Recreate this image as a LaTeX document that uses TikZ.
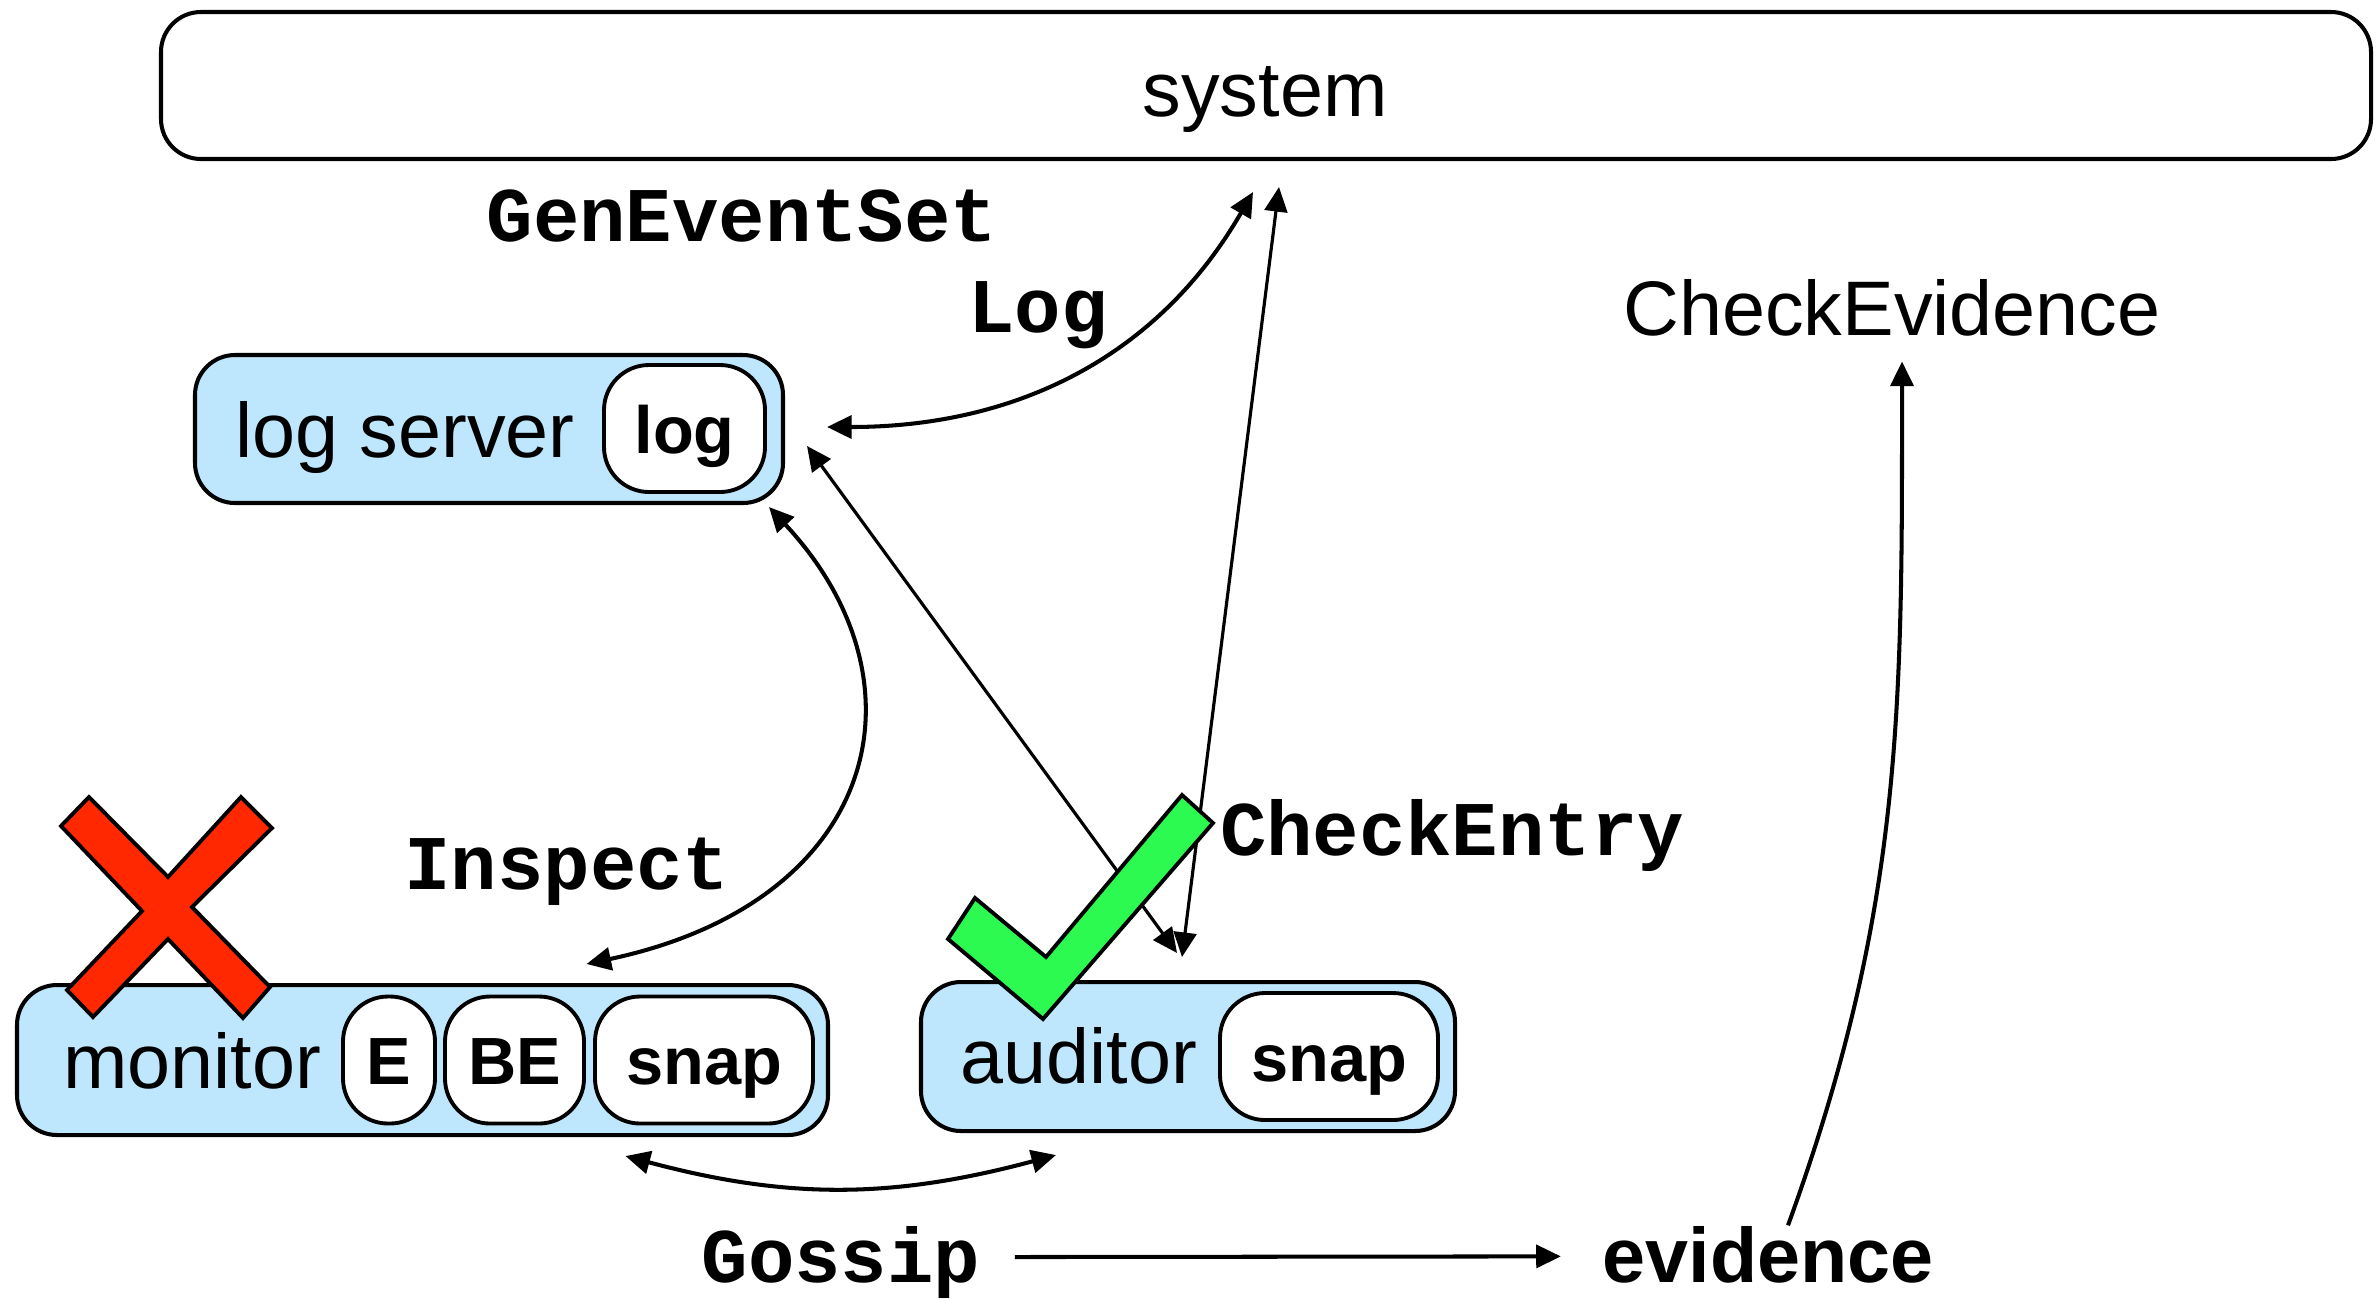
\documentclass[tikz,border=0pt]{standalone}
\usepackage{fontspec}
\setmainfont{Liberation Sans}
\setmonofont{Liberation Mono}
\usepackage{tikz}
\usetikzlibrary{arrows.meta}
\definecolor{boxblue}{RGB}{190,231,253}
\definecolor{crossred}{RGB}{255,40,0}
\definecolor{tickgreen}{RGB}{44,250,80}

\begin{document}
\begin{tikzpicture}[
    >={Triangle[length=7pt,width=6.5pt]},
    frame/.style={
      draw,
      line width=1.15pt,
      rounded corners=4mm
    },
    holder/.style={frame, fill=boxblue},
    slot/.style={
      draw,
      line width=1.1pt,
      rounded corners=4.5mm,
      fill=white,
      minimum height=1.27cm,
      inner sep=0pt,
      text height=18pt,
      text depth=4pt,
      font=\fontsize{19}{22}\selectfont\bfseries
    },
    lbl/.style={anchor=base, inner sep=0pt, font=\fontsize{22}{26}\selectfont},
    op/.style={anchor=base, inner sep=0pt, font=\fontsize{22}{26}\selectfont\ttfamily\bfseries},
    link/.style={line width=1.15pt},
    thinlink/.style={line width=0.9pt}
  ]
    \useasboundingbox (0,0) rectangle (23.76,-12.98);

    % boxes
    \node[frame, fill=white, minimum width=22.10cm, minimum height=1.47cm] (sys) at (12.66,-0.855) {};
    \node[lbl] (systxt) at (12.65,-1.16) {system};

    \node[holder, minimum width=5.88cm, minimum height=1.48cm] (logsrv) at (4.89,-4.29) {};
    \node[lbl] (logsrvtxt) at (4.05,-4.57) {log server};
    \node[slot, minimum width=1.61cm] (logslot) at (6.845,-4.285) {log};

    \node[holder, minimum width=8.11cm, minimum height=1.50cm] (mon) at (4.225,-10.60) {};
    \node[lbl] (montxt) at (1.92,-10.88) {monitor};
    \node[slot, minimum width=0.92cm] (monE) at (3.89,-10.60) {E};
    \node[slot, minimum width=1.39cm] (monBE) at (5.145,-10.60) {BE};
    \node[slot, minimum width=2.18cm] (monsnap) at (7.04,-10.60) {snap};

    \node[holder, minimum width=5.34cm, minimum height=1.49cm] (aud) at (11.88,-10.565) {};
    \node[lbl] (audtxt) at (10.79,-10.83) {auditor};
    \node[slot, minimum width=2.18cm] (audsnap) at (13.29,-10.565) {snap};

    % labels
    \node[op] (genev) at (7.42,-2.41) {GenEventSet};
    \node[op] (logop) at (10.38,-3.32) {Log};
    \node[op] (inspect) at (5.67,-8.89) {Inspect};
    \node[op] (chkentry) at (14.52,-8.55) {CheckEntry};
    \node[op] (gossip) at (8.41,-12.82) {Gossip};
    \node[lbl, font=\fontsize{22}{26}\selectfont\bfseries] (evid) at (17.68,-12.82) {evidence};
    \node[lbl] (chkev) at (18.92,-3.35) {CheckEvidence};

    % connectors
    \draw[link, <->] ([xshift=4.2mm,yshift=0.2mm]logsrv.east) to[out=0, in=240] ([xshift=-1.3mm,yshift=-3.1mm]sys.south);
    \draw[thinlink, <->] ([xshift=1.3mm,yshift=-2.6mm]sys.south) -- ([xshift=-0.6mm,yshift=2.3mm]aud.north);
    \draw[thinlink, <->] ([xshift=2.2mm,yshift=-1.7mm]logsrv.east) -- ([xshift=-1.1mm,yshift=2.7mm]aud.north);
    \draw[link, <->] ([xshift=-1.6mm,yshift=-0.2mm]logsrv.south east) .. controls +(-47:2.4) and +(12:3.0) .. ([xshift=16.4mm,yshift=1.9mm]mon.north);
    \draw[link, <->] ([xshift=20.3mm,yshift=-1.9mm]mon.south) to[out=-15, in=195] ([xshift=-13.2mm,yshift=-2.2mm]aud.south);
    \draw[link, ->] ([xshift=3.4mm,yshift=0.5mm]gossip.east) -- ([xshift=-4.1mm,yshift=-0.2mm]evid.west);
    \draw[link, ->] ([xshift=2mm]evid.north) to[out=70, in=-90] ([xshift=1mm,yshift=-2.5mm]chkev.south);

    % marks
    \draw[line width=1.1pt, fill=crossred] (0.89,-7.97) -- (1.68,-8.77) -- (2.41,-7.97) -- (2.72,-8.28)
      -- (1.92,-9.07) -- (2.70,-9.87) -- (2.43,-10.18) -- (1.68,-9.39) -- (0.93,-10.17)
      -- (0.67,-9.90) -- (1.42,-9.11) -- (0.61,-8.26) -- cycle;
    \draw[line width=1.1pt, fill=tickgreen] (11.82,-7.95) -- (12.13,-8.23) -- (10.43,-10.19)
      -- (9.48,-9.39) -- (9.75,-8.98) -- (10.46,-9.57) -- cycle;
  \end{tikzpicture}
\end{document}
